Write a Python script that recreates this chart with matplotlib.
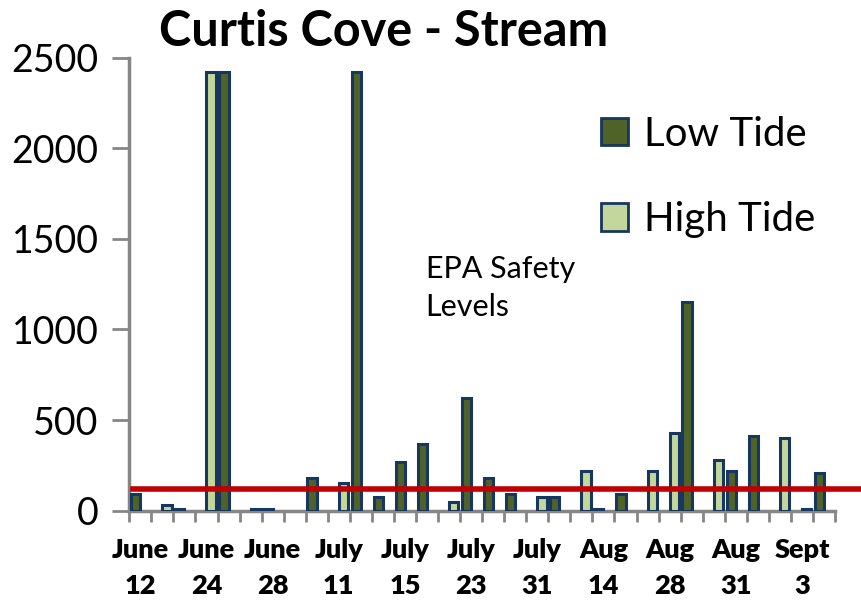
import numpy as np
import matplotlib
matplotlib.use("Agg")
import matplotlib.pyplot as plt
import matplotlib.patheffects as pe
from matplotlib.transforms import blended_transform_factory

plt.rcParams['font.family'] = ['Lato', 'DejaVu Sans']

# 32 sampling slots, only every third one is labelled on the chart
low_tide = [90, 0, 10, 0, 2420, 0, 10, 0, 180, 0, 2420, 75, 270, 370, 0, 620,
            180, 90, 0, 75, 0, 10, 90, 0, 0, 1150, 0, 220, 410, 0, 0, 210]
high_tide = [0, 30, 0, 2420, 0, 10, 0, 0, 0, 150, 0, 0, 0, 0, 50, 0,
             0, 0, 75, 0, 220, 0, 0, 220, 430, 0, 280, 0, 0, 400, 10, 0]
tick_labels = ["June\n12", "June\n24", "June\n28", "July\n11", "July\n15", "July\n23",
               "July\n31", "Aug\n14", "Aug\n28", "Aug\n31", "Sept\n3"]
label_every = 3
epa_level = 120

low_color = "#4F6228"
high_color = "#C3D69B"
edge_color = "#17375E"
axis_gray = "#868686"

fig = plt.figure(figsize=(8.62, 6.01), dpi=100)
ax = fig.add_axes([0.15, 0.1504, 0.8187, 0.7536])

n = len(low_tide)
x = np.arange(n)
w = 0.42
shadow = [pe.SimplePatchShadow(offset=(1.5, -1.5), alpha=0.25), pe.Normal()]

low = np.array(low_tide, dtype=float)
high = np.array(high_tide, dtype=float)
ml = low > 0
mh = high > 0
ax.bar(x[ml] - w / 2, low[ml], width=w, color=low_color, edgecolor=edge_color,
       linewidth=2.2, path_effects=shadow, zorder=3)
ax.bar(x[mh] + w / 2, high[mh], width=w, color=high_color, edgecolor=edge_color,
       linewidth=2.2, path_effects=shadow, zorder=3)

# legend proxies
ax.bar([0], [0], color=low_color, edgecolor=edge_color, linewidth=2, label="Low Tide")
ax.bar([0], [0], color=high_color, edgecolor=edge_color, linewidth=2, label="High Tide")

# EPA line runs past the plot edge, like the drawn shape in the original
trans = blended_transform_factory(ax.transAxes, ax.transData)
ax.plot([0.005, 1.04], [epa_level, epa_level], color="#C00000", linewidth=4,
        transform=trans, clip_on=False, zorder=4)
ax.text(0.42, 1230, "EPA Safety\nLevels", transform=trans, fontsize=22,
        linespacing=1.45, va="center", ha="left")

ax.set_xlim(-0.5, n - 0.5)
ax.set_ylim(0, 2500)
ax.set_yticks(range(0, 2501, 500))
ax.tick_params(axis='y', labelsize=27, length=12, width=2, color=axis_gray, pad=10)

ax.set_xticks(x[::label_every])
ax.set_xticklabels(tick_labels, fontsize=19.5, fontweight="heavy", linespacing=1.6)
ax.set_xticks(np.arange(n + 1) - 0.5, minor=True)
ax.tick_params(axis='x', which='major', length=0, pad=20)
ax.tick_params(axis='x', which='minor', length=8, width=2, color=axis_gray)

for s in ['top', 'right']:
    ax.spines[s].set_visible(False)
for s in ['left', 'bottom']:
    ax.spines[s].set_color(axis_gray)
    ax.spines[s].set_linewidth(2.5)

ax.legend(loc="upper left", bbox_to_anchor=(0.668, 0.872), frameon=False,
          fontsize=29, handlelength=0.68, handleheight=0.68, handletextpad=0.4,
          labelspacing=1.2, borderpad=0, borderaxespad=0)

fig.text(0.445, 0.947, "Curtis Cove - Stream", fontsize=35, fontweight="bold",
         ha="center", va="center")

fig.savefig("out.png", dpi=100)
